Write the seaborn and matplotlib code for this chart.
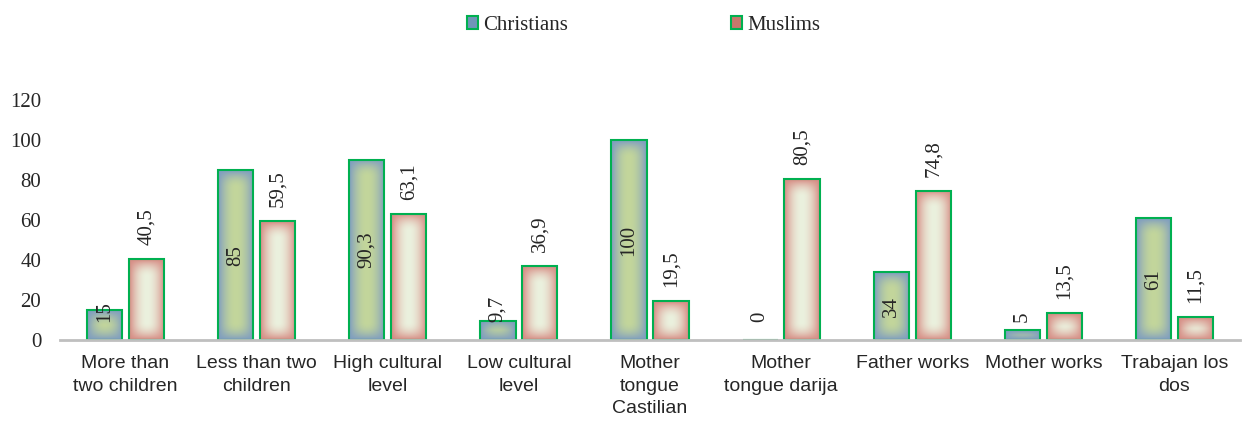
import matplotlib
matplotlib.use("Agg")
import matplotlib.pyplot as plt
from matplotlib.patches import Patch
from matplotlib.colors import to_rgb
import seaborn as sns
import pandas as pd
import numpy as np

categories = ["More than\ntwo children", "Less than two\nchildren", "High cultural\nlevel",
              "Low cultural\nlevel", "Mother\ntongue\nCastilian", "Mother\ntongue darija",
              "Father works", "Mother works", "Trabajan los\ndos"]
christians = [15, 85, 90.3, 9.7, 100, 0, 34, 5, 61]
muslims = [40.5, 59.5, 63.1, 36.9, 19.5, 80.5, 74.8, 13.5, 11.5]
groups = ["Christians", "Muslims"]
y_ticks = [0, 20, 40, 60, 80, 100, 120]

# gradient colours: (centre, edge)
grad = {"Christians": ("#c3d69b", "#7f9dc0"), "Muslims": ("#ebf1de", "#d68c84")}
legend_col = {"Christians": "#7095b8", "Muslims": "#c8786c"}
outline = "#00b050"

df = pd.DataFrame({
    "category": categories * 2,
    "value": christians + muslims,
    "group": ["Christians"] * len(categories) + ["Muslims"] * len(categories),
})

sns.set_style("white")
plt.rcParams["font.family"] = ["Liberation Serif", "DejaVu Serif"]

fig = plt.figure(figsize=(12.47, 4.21), dpi=100)
ax = fig.add_axes([0.0481, 0.192, 0.9463, 0.570])

sns.barplot(data=df, x="category", y="value", hue="group", hue_order=groups,
            palette=[legend_col[g] for g in groups], width=0.64, gap=0.16,
            legend=False, ax=ax, edgecolor=outline, linewidth=1.5)

ax.set_xlim(-0.5, len(categories) - 0.5)
ax.set_ylim(0, 120)


def gradient_img(c_center, c_edge, w_px, h_px):
    # frame-like gradient: same pixel width on sides and on top/bottom
    nx = max(int(w_px), 2)
    ny = max(int(h_px), 2)
    half = w_px / 2
    xs = np.abs(np.linspace(-1, 1, nx))
    yp = np.linspace(0, h_px, ny)
    dy = np.minimum(yp, h_px - yp)
    ty = np.clip(1 - dy / half, 0, 1)
    TX, TY = np.meshgrid(xs, ty)
    f = 1 - (1 - TX ** 2) * (1 - TY ** 2)
    c0 = np.array(to_rgb(c_center))
    c1 = np.array(to_rgb(c_edge))
    return c0 * (1 - f[..., None]) + c1 * f[..., None]


fig.canvas.draw()
to_px = ax.transData
for cont, g in zip(ax.containers, groups):
    for bar in cont:
        h = bar.get_height()
        x0 = bar.get_x()
        w = bar.get_width()
        if h > 0:
            p0 = to_px.transform((x0, 0))
            p1 = to_px.transform((x0 + w, h))
            img = gradient_img(*grad[g], abs(p1[0] - p0[0]), abs(p1[1] - p0[1]))
            im = ax.imshow(img, extent=[x0, x0 + w, 0, h], aspect="auto",
                           origin="lower", zorder=1.5, interpolation="bilinear")
            im.set_clip_path(bar)
        bar.set_facecolor("none")
        bar.set_zorder(2)
        label = f"{h:g}".replace(".", ",")
        xc = x0 + w / 2
        if g == "Christians":
            if h >= 20:
                ax.text(xc, h / 2, label, rotation=90, ha="center", va="center",
                        fontsize=15, zorder=3)
            else:
                ax.text(xc, 9, label, rotation=90, ha="center", va="bottom",
                        fontsize=15, zorder=3)
        else:
            ax.annotate(label, (xc, h), xytext=(0, 10), textcoords="offset points",
                        rotation=90, ha="center", va="bottom", fontsize=15, zorder=3)

ax.set_xlim(-0.5, len(categories) - 0.5)
ax.set_ylim(0, 120)
ax.set_yticks(y_ticks)
ax.set_xlabel("")
ax.set_ylabel("")
ax.tick_params(axis="y", length=0, pad=13.5, labelsize=15)
ax.tick_params(axis="x", length=0, pad=11)
for lbl in ax.get_xticklabels():
    lbl.set_fontfamily(["Liberation Sans", "DejaVu Sans"])
    lbl.set_fontsize(14)
    lbl.set_linespacing(1.42)

for s in ["top", "right", "left"]:
    ax.spines[s].set_visible(False)
ax.spines["bottom"].set_color("#bfbfbf")
ax.spines["bottom"].set_linewidth(2)
ax.spines["bottom"].set_zorder(4)

handles = [Patch(facecolor=legend_col[g], edgecolor=outline, linewidth=1.5) for g in groups]
fig.legend(handles, groups, loc="center", bbox_to_anchor=(0.516, 0.94), ncol=2,
           frameon=False, fontsize=15, handlelength=0.55, handleheight=0.55,
           handletextpad=0.25, columnspacing=7.8)

fig.savefig("out.png", dpi=100)
